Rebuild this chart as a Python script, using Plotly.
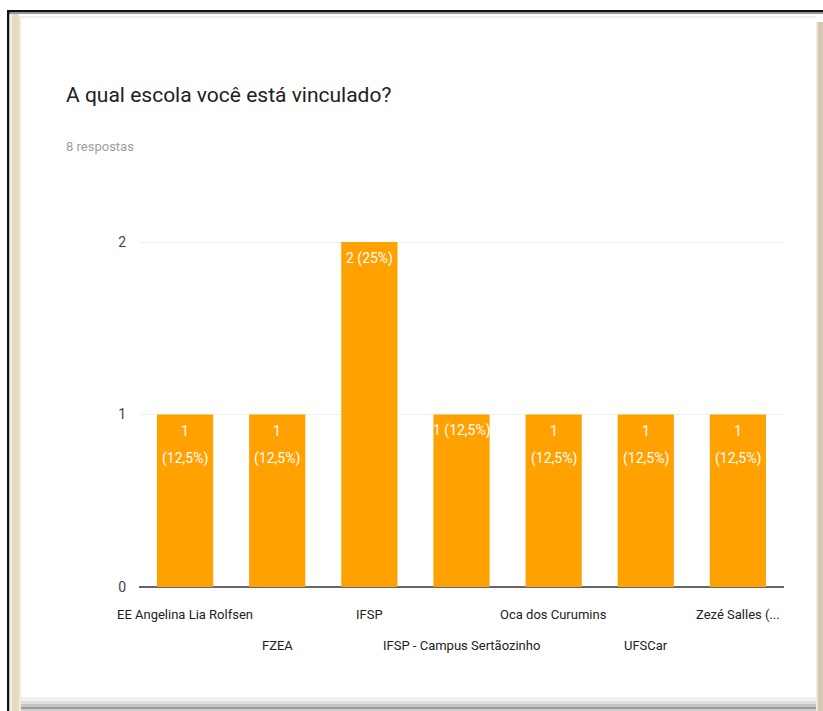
import plotly.graph_objects as go

# ---- data ----
categories = ["EE Angelina Lia Rolfsen", "FZEA", "IFSP", "IFSP - Campus Sertãozinho",
              "Oca dos Curumins", "UFSCar", "Zezé Salles (..."]
counts = [1, 1, 2, 1, 1, 1, 1]
percent_labels = ["12,5%", "12,5%", "25%", "12,5%", "12,5%", "12,5%", "12,5%"]
single_line_label = [False, False, True, True, False, False, False]
y_ticks = [0, 1, 2]
title_text = "A qual escola você está vinculado?"
subtitle_text = "8 respostas"

W, H = 823, 711
L, R, T, B = 139, 39, 230, 124
PW, PH = W - L - R, H - T - B
UNIT = 172.5
ymax = PH / UNIT

def px(x):
    return (x - L) / PW

def py(y):
    return (H - B - y) / PH

BAR = "#ffa100"
FONT = "Roboto, Arial, sans-serif"

fig = go.Figure()
fig.add_trace(go.Bar(
    x=list(range(len(categories))), y=counts,
    marker=dict(color=BAR, line=dict(width=0)),
    width=0.61, hoverinfo="skip",
))

annotations = []
# bar value labels
for i, (c, p, single) in enumerate(zip(counts, percent_labels, single_line_label)):
    if single:
        annotations.append(dict(x=i, y=c, xref="x", yref="y", text=f"{c} ({p})",
                                showarrow=False, yanchor="middle", yshift=-16,
                                font=dict(family=FONT, size=14, color="white")))
    else:
        annotations.append(dict(x=i, y=c, xref="x", yref="y", text=f"{c}",
                                showarrow=False, yanchor="middle", yshift=-16,
                                font=dict(family=FONT, size=14, color="white")))
        annotations.append(dict(x=i, y=c, xref="x", yref="y", text=f"({p})",
                                showarrow=False, yanchor="middle", yshift=-44,
                                font=dict(family=FONT, size=14, color="white")))
# staggered category labels
for i, name in enumerate(categories):
    annotations.append(dict(x=i, y=0, xref="x", yref="y", text=name,
                            showarrow=False, yanchor="middle",
                            yshift=-27 if i % 2 == 0 else -58,
                            font=dict(family=FONT, size=13, color="#222222")))
# title and subtitle
annotations.append(dict(x=px(64), y=py(95), xref="paper", yref="paper", text=title_text,
                        showarrow=False, xanchor="left", yanchor="middle",
                        font=dict(family=FONT, size=21, color="#212121")))
annotations.append(dict(x=px(64), y=py(146), xref="paper", yref="paper", text=subtitle_text,
                        showarrow=False, xanchor="left", yanchor="middle",
                        font=dict(family=FONT, size=13, color="#9e9e9e")))

def rect(x0, y0, x1, y1, color):
    return dict(type="rect", xref="paper", yref="paper", x0=px(x0), x1=px(x1),
                y0=py(y1), y1=py(y0), fillcolor=color, line=dict(width=0), layer="below")

shapes = [
    rect(7, 10, 823, 12.5, "#111111"),
    rect(9, 12.5, 823, 14, "#9a9a9a"),
    rect(7, 10, 9.5, 711, "#111111"),
    rect(9.5, 14, 12, 711, "#f4efe4"),
    rect(12, 14, 19, 711, "#e6dac4"),
    rect(19, 16, 21, 711, "#f2ece0"),
    rect(21, 16, 816, 18, "#ececec"),
    rect(816, 22, 818, 711, "#efe8da"),
    rect(818, 22, 823, 711, "#d6c8ae"),
    rect(21, 697, 816, 701, "#f0f0f0"),
    rect(21, 701, 816, 704, "#dedede"),
    rect(21, 704, 816, 707, "#c4c4c4"),
    rect(21, 707, 816, 709, "#9a9a9a"),
    rect(21, 709, 816, 711, "#d0d0d0"),
]

fig.update_layout(
    width=W, height=H,
    margin=dict(l=L, r=R, t=T, b=B, pad=0),
    paper_bgcolor="white", plot_bgcolor="white",
    showlegend=False,
    bargap=0.39,
    annotations=annotations,
    shapes=shapes,
    font=dict(family=FONT),
    xaxis=dict(range=[-0.5, len(categories) - 0.5], showticklabels=False, ticks="",
               showgrid=False, zeroline=False, showline=False, fixedrange=True),
    yaxis=dict(range=[0, ymax], tickvals=y_ticks, ticktext=[str(v) for v in y_ticks],
               showgrid=True, gridcolor="#f0f0f0", gridwidth=1,
               zeroline=True, zerolinecolor="#666666", zerolinewidth=2,
               showline=False, ticks="", ticklabelstandoff=12,
               tickfont=dict(family=FONT, size=14, color="#444444"), fixedrange=True),
)

fig.write_html("out.html", config={"displayModeBar": False},
               post_script="document.body.style.margin='0';document.body.style.overflow='hidden';")
